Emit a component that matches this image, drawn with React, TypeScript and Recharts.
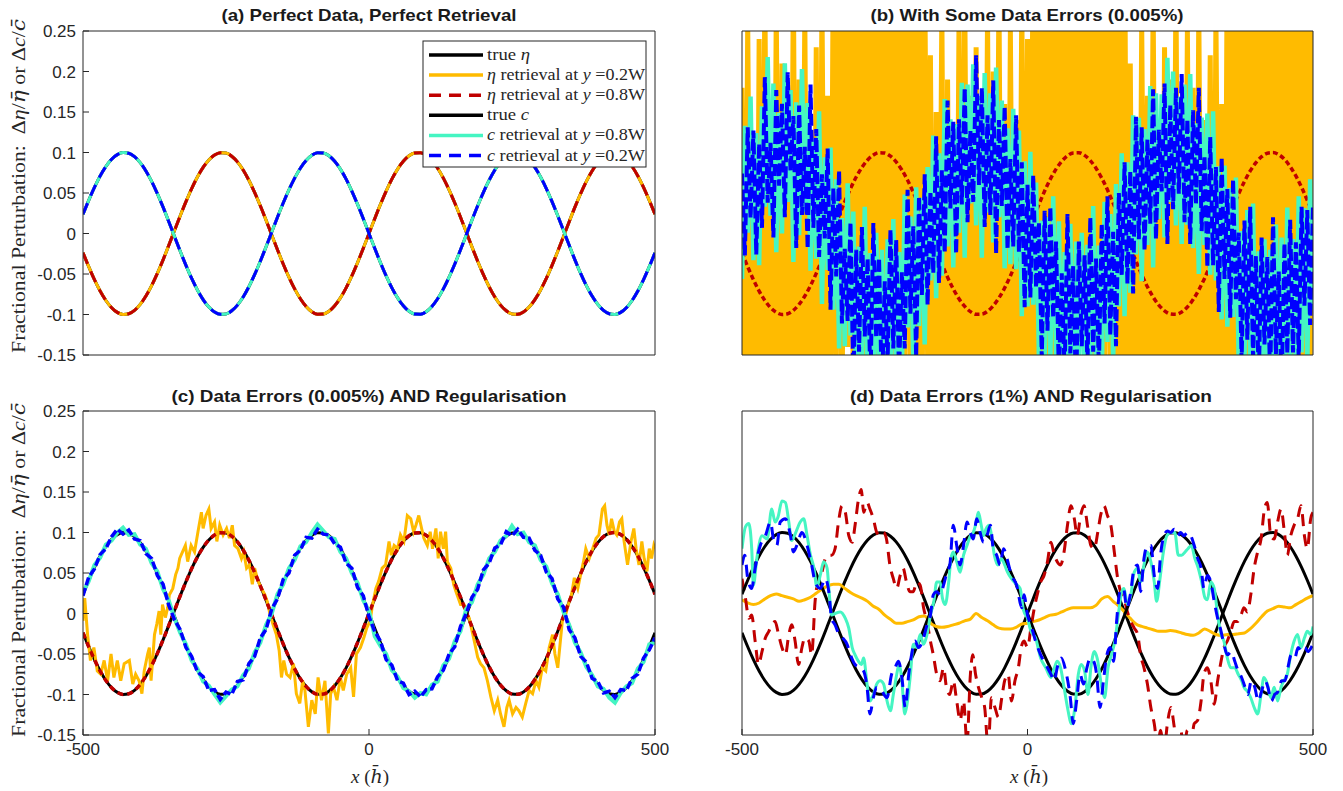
import React from "react";
import { Line, LineChart, XAxis, YAxis } from "recharts";

const X_TICKS = [-500, 0, 500];
const Y_TICKS = [-0.15, -0.1, -0.05, 0, 0.05, 0.1, 0.15, 0.2, 0.25];

const BLACK = "#000000";
const ORANGE = "#FFBB00";
const RED = "#C00000";
const CYAN = "#45F5C2";
const BLUE = "#0000FF";
const AXIS = "#262626";
const SANS = "'Liberation Sans', Arial, Helvetica, sans-serif";
const SERIF = "'Liberation Serif', 'Times New Roman', serif";
const MARK = "'DejaVu Serif', serif";

// true perturbations, sampled every 10 units from -500 to 500
const trueEta = [
  -0.0237, -0.041, -0.057, -0.0711, -0.0827, -0.0916, -0.0974, -0.0999, -0.0991, -0.0949,
  -0.0875, -0.0772, -0.0643, -0.0492, -0.0325, -0.0146, 0.0037, 0.0219, 0.0393, 0.0555,
  0.0697, 0.0816, 0.0908, 0.0969, 0.0998, 0.0993, 0.0954, 0.0884, 0.0784, 0.0657,
  0.0508, 0.0342, 0.0165, -0.0018, -0.0201, -0.0376, -0.0539, -0.0684, -0.0806, -0.09,
  -0.0965, -0.0997, -0.0995, -0.096, -0.0892, -0.0795, -0.0671, -0.0524, -0.0359, -0.0183,
  0,
  0.0183, 0.0359, 0.0524, 0.0671, 0.0795, 0.0892, 0.096, 0.0995, 0.0997, 0.0965,
  0.09, 0.0806, 0.0684, 0.0539, 0.0376, 0.0201, 0.0018, -0.0165, -0.0342, -0.0508,
  -0.0657, -0.0784, -0.0884, -0.0954, -0.0993, -0.0998, -0.0969, -0.0908, -0.0816, -0.0697,
  -0.0555, -0.0393, -0.0219, -0.0037, 0.0146, 0.0325, 0.0492, 0.0643, 0.0772, 0.0875,
  0.0949, 0.0991, 0.0999, 0.0974, 0.0916, 0.0827, 0.0711, 0.057, 0.041, 0.0237,
];

const trueC = [
  0.0237, 0.041, 0.057, 0.0711, 0.0827, 0.0916, 0.0974, 0.0999, 0.0991, 0.0949,
  0.0875, 0.0772, 0.0643, 0.0492, 0.0325, 0.0146, -0.0037, -0.0219, -0.0393, -0.0555,
  -0.0697, -0.0816, -0.0908, -0.0969, -0.0998, -0.0993, -0.0954, -0.0884, -0.0784, -0.0657,
  -0.0508, -0.0342, -0.0165, 0.0018, 0.0201, 0.0376, 0.0539, 0.0684, 0.0806, 0.09,
  0.0965, 0.0997, 0.0995, 0.096, 0.0892, 0.0795, 0.0671, 0.0524, 0.0359, 0.0183,
  0,
  -0.0183, -0.0359, -0.0524, -0.0671, -0.0795, -0.0892, -0.096, -0.0995, -0.0997, -0.0965,
  -0.09, -0.0806, -0.0684, -0.0539, -0.0376, -0.0201, -0.0018, 0.0165, 0.0342, 0.0508,
  0.0657, 0.0784, 0.0884, 0.0954, 0.0993, 0.0998, 0.0969, 0.0908, 0.0816, 0.0697,
  0.0555, 0.0393, 0.0219, 0.0037, -0.0146, -0.0325, -0.0492, -0.0643, -0.0772, -0.0875,
  -0.0949, -0.0991, -0.0999, -0.0974, -0.0916, -0.0827, -0.0711, -0.057, -0.041, -0.0237,
];

// (b) retrievals with 0.005% data errors, every 5 units
const etaRetrieval02B = [
  0.18, -0.3, 0.26, -0.22, 0.12, -0.35, 0.24, -0.28, 0.3, -0.2, 0.16, -0.33, 0.28, -0.25, 0.21, -0.31,
  0.14, -0.27, 0.32, -0.36, 0.19, -0.24, 0.27, -0.3, 0.11, -0.28, 0.23, -0.34, 0.29, -0.19, 0.17, -0.26,
  0.36, -0.18, 0.41, -0.25, 0.3, -0.14, 0.38, -0.22, 0.45, -0.29, 0.33, -0.16, 0.4, -0.21, 0.29, -0.26, 0.37,
  -0.13, 0.43, -0.24, 0.31, -0.19, 0.39, -0.28, 0.34, -0.17, 0.42, -0.23, 0.28, -0.2, 0.36, -0.27, 0.32, -0.15,
  0.22, -0.31, 0.15, -0.26, 0.28, -0.35, 0.19, -0.22, 0.13, -0.3, 0.26, -0.28, 0.31, -0.24, 0.17, -0.36, 0.23,
  -0.29, 0.12, -0.25, 0.27, -0.33, 0.2, -0.21, 0.3, -0.28, 0.16, -0.34, 0.25, -0.23, 0.14, -0.3, 0.29, -0.26, 0.24,
  -0.19, 0.38, -0.27, 0.33, -0.15, 0.42, -0.22, 0.3, -0.29, 0.39, -0.17, 0.35, -0.24, 0.44, -0.2, 0.31, -0.26,
  0.37, -0.13, 0.41, -0.23, 0.29, -0.18, 0.36, -0.28, 0.43, -0.21, 0.32, -0.16, 0.38, -0.25, 0.34, -0.19, 0.4,
  -0.3, 0.21, -0.27, 0.13, -0.34, 0.26, -0.22, 0.17, -0.31, 0.29, -0.25, 0.11, -0.36, 0.23, -0.28, 0.19, -0.24,
  0.31, -0.33, 0.15, -0.27, 0.25, -0.21, 0.18, -0.35, 0.28, -0.29, 0.14, -0.26, 0.22, -0.32, 0.27, -0.23, 0.16, -0.3,
  0.37, -0.2, 0.42, -0.26, 0.31, -0.15, 0.39, -0.23, 0.34, -0.28, 0.45, -0.18, 0.3, -0.24, 0.4, -0.21, 0.35,
  -0.27, 0.29, -0.16, 0.43, -0.25, 0.33, -0.19, 0.38, -0.22, 0.41, -0.29, 0.32, -0.17, 0.36,
];

const cRetrieval08B = [
  -0.056, 0.133, 0.001, 0.169, -0.033, 0.124, -0.039, 0.157, 0.033, 0.218,
  0.022, 0.185, -0.023, 0.149, 0.0, 0.21, 0.039, 0.177, -0.035, 0.162,
  -0.002, 0.203, 0.027, 0.161, -0.046, 0.117, -0.031, 0.151, -0.087, 0.094,
  -0.045, 0.106, -0.094, 0.067, -0.142, 0.019, -0.139, 0.062, -0.126, 0.027,
  -0.2, -0.016, -0.162, 0.033, -0.181, -0.024, -0.207, 0.001, -0.16, -0.02,
  -0.219, -0.007, -0.165, 0.018, -0.188, -0.023, -0.168, 0.048, -0.116, 0.021,
  -0.161, 0.057, -0.114, 0.044, -0.137, 0.082, -0.058, 0.121, -0.08, 0.099,
  -0.052, 0.166, -0.016, 0.141, -0.042, 0.135, 0.001, 0.186, -0.03, 0.184,
  0.037, 0.209, 0.01, 0.17, -0.03, 0.198, 0.026, 0.173, -0.011, 0.205,
  0.02, 0.164, -0.043, 0.13, -0.038, 0.154, -0.044, 0.127, -0.102, 0.089,
  -0.09,
  0.101, -0.088, 0.063, -0.156, 0.016, -0.152, 0.02, -0.157, 0.046, -0.15,
  0.015, -0.199, -0.023, -0.176, 0.012, -0.22, -0.01, -0.16, 0.001, -0.197,
  -0.014, -0.16, 0.034, -0.171, -0.015, -0.178, 0.039, -0.134, 0.024, -0.158,
  0.061, -0.09, 0.099, -0.102, 0.088, -0.073, 0.146, -0.026, 0.143, -0.059,
  0.129, -0.014, 0.182, -0.042, 0.173, 0.018, 0.172, -0.005, 0.217, 0.039,
  0.2, 0.01, 0.169, -0.013, 0.184, 0.011, 0.197, -0.018, 0.136, -0.05,
  0.143, -0.014, 0.148, -0.051, 0.151, -0.058, 0.083, -0.106, 0.084, -0.115,
  0.056, -0.103, 0.069, -0.169, 0.003, -0.154, 0.029, -0.157, 0.037, -0.198,
  -0.022, -0.155, -0.007, -0.219, -0.02, -0.2, 0.011, -0.167, -0.005, -0.202,
  0.032, -0.163, -0.007, -0.171, 0.046, -0.147, 0.031, -0.161, 0.067, -0.094,
];

const cRetrieval02B = [
  0.074, -0.027, 0.131, 0.019, 0.127, -0.026, 0.111, 0.007, 0.193, 0.038,
  0.112, -0.005, 0.177, 0.059, 0.16, 0.02, 0.199, 0.077, 0.145, -0.018,
  0.158, 0.023, 0.107, -0.019, 0.184, 0.007, 0.129, -0.029, 0.073, -0.006,
  0.105, -0.094, 0.056, -0.053, 0.078, -0.111, -0.019, -0.108, 0.014, -0.183,
  -0.02, -0.146, 0.008, -0.127, -0.031, -0.184, 0.013, -0.129, -0.03, -0.2,
  -0.059, -0.157, 0.005, -0.142, -0.008, -0.173, -0.048, -0.142, 0.054, -0.099,
  0.009, -0.153, 0.046, -0.076, 0.073, -0.088, 0.052, -0.049, 0.12, -0.061,
  0.078, -0.024, 0.164, 0.031, 0.138, -0.025, 0.141, 0.036, 0.18, 0.014,
  0.127, 0.039, 0.22, 0.06, 0.18, 0.008, 0.146, 0.023, 0.189, -0.025,
  0.14, 0.034, 0.157, -0.02, 0.092, -0.016, 0.146, -0.023, 0.088, -0.091,
  0.06,
  -0.079, 0.072, -0.067, 0.014, -0.154, 0.028, -0.12, 0.033, -0.104, -0.01,
  -0.175, -0.049, -0.173, 0.024, -0.148, -0.04, -0.2, -0.01, -0.139, -0.027,
  -0.164, 0.02, -0.146, -0.031, -0.165, 0.012, -0.111, 0.046, -0.126, 0.002,
  -0.139, 0.05, -0.051, 0.088, -0.062, 0.077, -0.074, 0.144, -0.007, 0.131,
  -0.021, 0.116, 0.012, 0.178, -0.007, 0.128, 0.052, 0.185, -0.013, 0.159,
  0.03, 0.18, 0.049, 0.197, 0.014, 0.141, -0.013, 0.152, 0.036, 0.18,
  0.003, 0.096, -0.042, 0.119, -0.039, 0.082, -0.097, 0.094, -0.056, 0.055,
  -0.104, 0.067, -0.081, 0.001, -0.157, 0.016, -0.131, 0.033, -0.153, -0.028,
  -0.182, -0.005, -0.137, -0.029, -0.18, 0.02, -0.149, -0.047, -0.195, -0.012,
  -0.148, 0.017, -0.147, -0.011, -0.154, 0.033, -0.089, 0.029, -0.113, 0.036,
];

// (c) retrievals with 0.005% errors and regularisation
const etaRetrieval02C = [
  [-500, -0.009], [-497, 0.019], [-492, -0.026], [-487, -0.058], [-481, -0.042], [-475, -0.071],
  [-469, -0.075], [-463, -0.058], [-457, -0.083], [-451, -0.05], [-446, -0.079], [-440, -0.058],
  [-434, -0.083], [-428, -0.062], [-419, -0.058], [-413, -0.087], [-408, -0.075], [-402, -0.083],
  [-397, -0.099], [-393, -0.071], [-387, -0.05], [-384, -0.042], [-381, -0.083], [-375, -0.026],
  [-371, -0.013], [-367, 0.003], [-364, -0.026], [-361, 0.011], [-356, -0.005], [-352, 0.007],
  [-349, 0.023], [-343, 0.031], [-338, 0.048], [-334, 0.056], [-331, 0.068], [-326, 0.076],
  [-321, 0.084], [-317, 0.064], [-311, 0.084], [-305, 0.076], [-299, 0.101], [-293, 0.125],
  [-290, 0.105], [-285, 0.121], [-280, 0.129], [-276, 0.105], [-270, 0.113], [-266, 0.089],
  [-261, 0.109], [-255, 0.097], [-249, 0.105], [-244, 0.093], [-239, 0.109], [-235, 0.084],
  [-229, 0.08], [-223, 0.068], [-219, 0.076], [-214, 0.056], [-209, 0.06], [-204, 0.036],
  [-200, 0.056], [-194, 0.04], [-188, 0.031], [-182, 0.023], [-178, 0.015], [-173, -0.001],
  [-168, -0.013], [-162, -0.026], [-157, -0.046], [-153, -0.079], [-149, -0.058], [-144, -0.075],
  [-138, -0.079], [-132, -0.062], [-127, -0.099], [-121, -0.111], [-116, -0.083], [-112, -0.095],
  [-106, -0.14], [-100, -0.107], [-94, -0.124], [-89, -0.079], [-83, -0.107], [-77, -0.083],
  [-71, -0.148], [-67, -0.099], [-62, -0.091], [-56, -0.107], [-50, -0.079], [-45, -0.095],
  [-39, -0.075], [-32, -0.067], [-27, -0.103], [-22, -0.05], [-15, -0.042], [-9, -0.03],
  [-4, -0.018], [2, -0.009], [6, 0.01], [12, 0.031], [17, 0.04], [23, 0.056], [29, 0.06],
  [35, 0.089], [39, 0.072], [44, 0.084], [50, 0.08], [55, 0.097], [61, 0.089], [67, 0.121],
  [73, 0.117], [78, 0.101], [82, 0.109], [87, 0.121], [92, 0.105], [96, 0.093], [102, 0.084],
  [107, 0.101], [111, 0.08], [117, 0.105], [121, 0.068], [125, 0.101], [130, 0.08], [134, 0.101],
  [137, 0.064], [143, 0.056], [148, 0.036], [152, 0.027], [156, 0.019], [160, 0.011], [166, 0.011],
  [171, -0.001], [175, -0.005], [179, -0.018], [184, -0.034], [190, -0.054], [195, -0.062],
  [201, -0.067], [207, -0.083], [213, -0.103], [219, -0.12], [225, -0.107], [230, -0.124],
  [236, -0.14], [241, -0.116], [245, -0.107], [251, -0.124], [257, -0.116], [262, -0.12],
  [268, -0.128], [274, -0.111], [280, -0.095], [286, -0.099], [292, -0.083], [297, -0.091],
  [303, -0.067], [309, -0.071], [315, -0.042], [321, -0.026], [325, -0.05], [330, -0.067],
  [334, -0.038], [338, -0.009], [344, -0.001], [350, 0.015], [354, 0.023], [359, 0.044],
  [365, 0.031], [370, 0.048], [375, 0.064], [379, 0.08], [385, 0.068], [391, 0.08], [397, 0.093],
  [402, 0.097], [408, 0.129], [412, 0.133], [416, 0.109], [420, 0.097], [424, 0.117], [429, 0.101],
  [433, 0.097], [438, 0.113], [442, 0.117], [446, 0.089], [452, 0.06], [458, 0.089], [463, 0.105],
  [467, 0.08], [472, 0.06], [477, 0.089], [481, 0.068], [486, 0.052], [490, 0.08], [494, 0.068],
  [498, 0.084], [500, 0.08],
];

const cRetrieval08C = [
  0.026, 0.04, 0.06, 0.069, 0.085, 0.09, 0.1, 0.106, 0.097, 0.098,
  0.085, 0.08, 0.062, 0.052, 0.03, 0.016, -0.006, -0.024, -0.038, -0.058,
  -0.068, -0.084, -0.089, -0.1, -0.11, -0.102, -0.094, -0.09, -0.076, -0.068,
  -0.048, -0.036, -0.014, 0.0, 0.024, 0.036, 0.056, 0.066, 0.083, 0.088,
  0.1, 0.11, 0.102, 0.094, 0.092, 0.076, 0.068, 0.05, 0.038, 0.016,
  0.003,
  -0.028, -0.04, -0.05, -0.07, -0.078, -0.092, -0.096, -0.104, -0.098, -0.1,
  -0.088, -0.084, -0.064, -0.056, -0.034, -0.022, 0.006, 0.014, 0.036, 0.048,
  0.068, 0.076, 0.09, 0.096, 0.108, 0.098, 0.1, 0.088, 0.084, 0.066,
  0.058, 0.037, 0.024, 0.002, -0.014, -0.036, -0.048, -0.066, -0.076, -0.09,
  -0.093, -0.104, -0.11, -0.098, -0.09, -0.086, -0.068, -0.06, -0.038, -0.036,
];

const cRetrieval02C = [
  0.022, 0.045, 0.055, 0.073, 0.08, 0.095, 0.104, 0.098, 0.103, 0.092,
  0.09, 0.074, 0.068, 0.047, 0.036, 0.01, -0.008, -0.02, -0.042, -0.053,
  -0.072, -0.078, -0.095, -0.094, -0.106, -0.097, -0.1, -0.084, -0.082, -0.062,
  -0.053, -0.03, -0.02, 0.006, 0.018, 0.042, 0.05, 0.072, 0.078, 0.094,
  0.093, 0.104, 0.098, 0.097, 0.086, 0.082, 0.062, 0.056, 0.032, 0.022,
  -0.004,
  -0.022, -0.034, -0.057, -0.064, -0.083, -0.086, -0.1, -0.096, -0.103, -0.094,
  -0.093, -0.078, -0.07, -0.05, -0.041, -0.016, 0.0, 0.02, 0.03, 0.054,
  0.062, 0.081, 0.085, 0.101, 0.096, 0.104, 0.094, 0.093, 0.078, 0.072,
  0.051, 0.043, 0.018, 0.008, -0.02, -0.03, -0.053, -0.06, -0.08, -0.084,
  -0.098, -0.096, -0.104, -0.094, -0.095, -0.08, -0.075, -0.055, -0.045, -0.03,
];

// (d) retrievals with 1% errors and regularisation
const etaRetrieval02D = [
  0.017, 0.013, 0.011, 0.013, 0.018, 0.022, 0.024, 0.022, 0.02, 0.018,
  0.015, 0.017, 0.02, 0.025, 0.03, 0.034, 0.036, 0.036, 0.031, 0.026,
  0.022, 0.019, 0.015, 0.009, 0.005, -0.002, -0.007, -0.012, -0.012, -0.01,
  -0.008, -0.004, -0.003, -0.012, -0.016, -0.017, -0.016, -0.014, -0.012, -0.009,
  -0.007, 0.0, -0.005, -0.009, -0.014, -0.018, -0.019, -0.019, -0.017, -0.013,
  -0.012,
  -0.01, -0.008, -0.005, -0.002, -0.001, 0.002, 0.005, 0.007, 0.007, 0.007,
  0.007, 0.01, 0.018, 0.021, 0.015, 0.009, 0.002, -0.006, -0.013, -0.016,
  -0.018, -0.02, -0.022, -0.022, -0.021, -0.022, -0.024, -0.026, -0.027, -0.024,
  -0.019, -0.022, -0.026, -0.027, -0.026, -0.026, -0.025, -0.024, -0.019, -0.012,
  -0.004, 0.003, 0.006, 0.009, 0.008, 0.007, 0.011, 0.015, 0.019, 0.022,
];

const etaRetrieval08D = [
  [-500, 0.043], [-494, 0.019], [-488, -0.006], [-483, -0.002], [-477, -0.034], [-471, -0.063],
  [-465, -0.047], [-459, -0.03], [-453, -0.022], [-448, -0.014], [-442, -0.01], [-436, -0.026],
  [-430, -0.042], [-424, -0.051], [-418, -0.026], [-413, -0.014], [-407, -0.034], [-401, -0.063],
  [-395, -0.042], [-390, -0.03], [-383, -0.034], [-378, -0.051], [-372, 0.015], [-366, 0.043],
  [-360, 0.051], [-354, 0.068], [-348, 0.072], [-343, 0.072], [-337, 0.08], [-331, 0.113],
  [-325, 0.133], [-319, 0.125], [-313, 0.096], [-307, 0.088], [-302, 0.109], [-296, 0.141],
  [-291, 0.153], [-287, 0.125], [-281, 0.137], [-276, 0.129], [-270, 0.117], [-264, 0.1],
  [-258, 0.096], [-252, 0.1], [-247, 0.092], [-241, 0.06], [-235, 0.043], [-229, 0.031],
  [-223, 0.047], [-218, 0.056], [-212, 0.039], [-206, 0.027], [-200, 0.027], [-194, 0.039],
  [-188, 0.035], [-182, 0.007], [-176, -0.01], [-170, -0.034], [-165, -0.051], [-159, -0.075],
  [-153, -0.083], [-147, -0.067], [-142, -0.091], [-136, -0.1], [-130, -0.083], [-124, -0.108],
  [-118, -0.132], [-112, -0.108], [-106, -0.16], [-100, -0.075], [-96, -0.051], [-91, -0.075],
  [-86, -0.091], [-80, -0.104], [-75, -0.116], [-69, -0.165], [-63, -0.104], [-57, -0.116],
  [-51, -0.128], [-45, -0.104], [-40, -0.083], [-34, -0.075], [-28, -0.108], [-22, -0.083],
  [-16, -0.067], [-11, -0.042], [-6, -0.034], [0, -0.042], [6, -0.018], [12, 0.007], [17, 0.023],
  [23, 0.039], [29, 0.047], [35, 0.064], [41, 0.088], [47, 0.072], [52, 0.064], [58, 0.06],
  [64, 0.076], [70, 0.109], [76, 0.133], [82, 0.117], [87, 0.096], [93, 0.121], [99, 0.133],
  [105, 0.109], [111, 0.084], [117, 0.08], [123, 0.1], [128, 0.121], [134, 0.133], [140, 0.121],
  [146, 0.109], [152, 0.076], [158, 0.043], [163, 0.027], [169, 0.019], [175, 0.002], [181, -0.01],
  [187, -0.018], [193, -0.026], [198, -0.051], [204, -0.067], [210, -0.087], [216, -0.116],
  [222, -0.136], [228, -0.165], [233, -0.144], [239, -0.17], [245, -0.136], [251, -0.116],
  [257, -0.14], [263, -0.17], [268, -0.144], [274, -0.165], [280, -0.144], [286, -0.16],
  [292, -0.136], [298, -0.132], [304, -0.108], [309, -0.075], [315, -0.067], [321, -0.083],
  [327, -0.112], [333, -0.083], [339, -0.059], [344, -0.042], [350, -0.034], [356, -0.022],
  [362, -0.01], [368, -0.01], [374, -0.002], [379, 0.007], [385, 0.002], [391, 0.023],
  [397, 0.056], [403, 0.076], [409, 0.092], [415, 0.129], [420, 0.137], [426, 0.096], [432, 0.092],
  [438, 0.113], [444, 0.129], [450, 0.1], [455, 0.072], [461, 0.096], [467, 0.109], [473, 0.117],
  [479, 0.133], [485, 0.096], [490, 0.08], [496, 0.117], [500, 0.125],
];

const cRetrieval08D = [
  [-500, 0.08], [-494, 0.107], [-488, 0.111], [-483, 0.08], [-480, 0.035], [-474, 0.068],
  [-465, 0.096], [-456, 0.092], [-448, 0.129], [-442, 0.113], [-437, 0.119], [-430, 0.139],
  [-424, 0.137], [-418, 0.113], [-413, 0.09], [-407, 0.098], [-398, 0.113], [-392, 0.117],
  [-386, 0.096], [-380, 0.072], [-374, 0.056], [-369, 0.033], [-363, 0.047], [-357, 0.064],
  [-351, 0.056], [-347, 0.023], [-343, -0.002], [-337, 0.0], [-328, 0.002], [-319, -0.006],
  [-313, -0.018], [-307, -0.042], [-302, -0.051], [-296, -0.059], [-291, -0.063], [-287, -0.055],
  [-281, -0.087], [-276, -0.108], [-270, -0.1], [-264, -0.087], [-258, -0.083], [-252, -0.087],
  [-246, -0.108], [-240, -0.12], [-235, -0.1], [-229, -0.075], [-225, -0.063], [-220, -0.083],
  [-215, -0.124], [-211, -0.112], [-205, -0.075], [-200, -0.038], [-194, -0.042], [-188, -0.026],
  [-182, -0.038], [-176, -0.026], [-170, -0.002], [-164, 0.015], [-159, 0.039], [-153, 0.039],
  [-149, 0.019], [-144, 0.011], [-138, 0.039], [-134, 0.068], [-130, 0.076], [-124, 0.064],
  [-118, 0.051], [-112, 0.072], [-106, 0.084], [-100, 0.096], [-95, 0.1], [-91, 0.109],
  [-86, 0.125], [-81, 0.109], [-77, 0.096], [-73, 0.104], [-67, 0.109], [-63, 0.096], [-58, 0.072],
  [-52, 0.06], [-46, 0.068], [-40, 0.06], [-35, 0.051], [-28, 0.043], [-21, 0.037], [-13, 0.031],
  [-7, 0.004], [0, -0.006], [6, -0.022], [14, -0.03], [23, -0.055], [32, -0.067], [41, -0.079],
  [47, -0.067], [52, -0.059], [58, -0.067], [64, -0.091], [70, -0.116], [77, -0.136], [83, -0.116],
  [89, -0.075], [94, -0.063], [100, -0.071], [106, -0.1], [111, -0.067], [117, -0.047], [122, -0.055],
  [130, -0.091], [135, -0.104], [141, -0.067], [147, -0.051], [153, -0.034], [159, -0.002],
  [165, 0.027], [169, 0.031], [175, 0.011], [181, 0.023], [187, 0.051], [193, 0.056], [198, 0.039],
  [204, 0.06], [210, 0.076], [216, 0.064], [222, 0.039], [226, 0.015], [232, 0.043], [238, 0.076],
  [244, 0.096], [251, 0.1], [258, 0.1], [264, 0.072], [270, 0.072], [276, 0.076], [281, 0.08],
  [287, 0.084], [293, 0.068], [299, 0.056], [305, 0.039], [311, 0.019], [315, 0.017], [321, 0.039],
  [327, 0.031], [333, -0.002], [339, -0.026], [344, -0.034], [350, -0.055], [356, -0.067],
  [363, -0.067], [369, -0.075], [375, -0.083], [379, -0.091], [385, -0.096], [391, -0.104],
  [397, -0.116], [403, -0.124], [409, -0.1], [414, -0.079], [420, -0.087], [426, -0.104],
  [432, -0.091], [438, -0.108], [444, -0.091], [449, -0.083], [455, -0.075], [461, -0.051],
  [467, -0.034], [473, -0.026], [479, -0.042], [485, -0.03], [490, -0.022], [496, -0.026], [500, -0.016],
];

const cRetrieval02D = [
  [-500, 0.06], [-495, 0.072], [-490, 0.043], [-483, 0.031], [-477, 0.056], [-468, 0.084],
  [-459, 0.096], [-450, 0.113], [-445, 0.092], [-439, 0.084], [-433, 0.113], [-424, 0.117],
  [-415, 0.096], [-410, 0.076], [-404, 0.084], [-395, 0.1], [-386, 0.084], [-378, 0.06],
  [-372, 0.039], [-363, 0.031], [-354, 0.043], [-348, 0.027], [-343, -0.006], [-337, -0.014],
  [-330, -0.026], [-324, -0.03], [-316, -0.038], [-310, -0.051], [-302, -0.063], [-293, -0.067],
  [-287, -0.071], [-281, -0.091], [-276, -0.124], [-270, -0.104], [-264, -0.091], [-255, -0.096],
  [-246, -0.104], [-238, -0.075], [-232, -0.067], [-226, -0.059], [-220, -0.079], [-214, -0.116],
  [-208, -0.075], [-203, -0.051], [-197, -0.034], [-191, -0.042], [-182, -0.03], [-176, -0.014],
  [-170, -0.002], [-165, 0.023], [-159, 0.027], [-153, 0.023], [-147, 0.035], [-141, 0.051],
  [-136, 0.06], [-130, 0.109], [-124, 0.084], [-118, 0.06], [-112, 0.084], [-106, 0.113],
  [-100, 0.1], [-95, 0.092], [-89, 0.117], [-83, 0.1], [-77, 0.088], [-71, 0.096], [-65, 0.109],
  [-60, 0.08], [-54, 0.072], [-48, 0.06], [-42, 0.08], [-36, 0.068], [-28, 0.047], [-19, 0.035],
  [-10, 0.007], [-6, 0.023], [0, -0.002], [6, -0.014], [14, -0.034], [23, -0.051], [32, -0.063],
  [41, -0.075], [47, -0.083], [52, -0.067], [59, -0.055], [67, -0.071], [75, -0.104], [80, -0.136],
  [86, -0.108], [92, -0.075], [98, -0.087], [104, -0.067], [110, -0.055], [116, -0.059], [121, -0.075],
  [127, -0.116], [133, -0.083], [139, -0.051], [145, -0.042], [151, -0.059], [156, -0.01], [162, 0.027],
  [168, 0.031], [174, 0.007], [180, 0.023], [187, 0.056], [193, 0.06], [198, 0.027], [204, 0.068],
  [210, 0.084], [216, 0.084], [222, 0.047], [228, 0.031], [233, 0.072], [239, 0.096], [245, 0.102],
  [251, 0.1], [257, 0.104], [263, 0.096], [268, 0.1], [274, 0.096], [280, 0.1], [286, 0.096],
  [292, 0.084], [298, 0.068], [304, 0.056], [309, 0.031], [315, 0.047], [321, 0.039], [327, 0.015],
  [333, -0.006], [339, -0.022], [344, -0.038], [350, -0.051], [357, -0.047], [363, -0.059],
  [369, -0.071], [375, -0.079], [381, -0.091], [386, -0.1], [392, -0.083], [398, -0.091],
  [404, -0.108], [410, -0.096], [416, -0.083], [421, -0.091], [427, -0.108], [433, -0.1],
  [439, -0.096], [445, -0.083], [451, -0.083], [456, -0.067], [462, -0.051], [468, -0.055],
  [474, -0.042], [480, -0.047], [486, -0.042], [491, -0.047], [497, -0.042], [500, -0.038],
];

type Pt = { x: number; y: number };
// evenly spaced samples across the x range
const onGrid = (ys: number[]): Pt[] =>
  ys.map((y, i) => ({ x: -500 + (i * 1000) / (ys.length - 1), y }));
const fromPairs = (pairs: number[][]): Pt[] => pairs.map(([x, y]) => ({ x, y }));

type Series = {
  name: string;
  data: Pt[];
  color: string;
  width?: number;
  dash?: string;
  curve?: "linear" | "monotone";
};

const TICK_STYLE = { fill: AXIS, fontSize: 17, fontFamily: SANS };

function Panel({
  left,
  top,
  w,
  h,
  series,
  yLabels,
  xLabels,
}: {
  left: number;
  top: number;
  w: number;
  h: number;
  series: Series[];
  yLabels: boolean;
  xLabels: boolean;
}) {
  const bottomH = xLabels ? 40 : 10;
  return (
    <div style={{ position: "absolute", left: left - 50, top: top - 10 }}>
      <LineChart width={w + 75} height={h + 10 + bottomH} margin={{ top: 0, right: 0, bottom: 0, left: 0 }}>
        <XAxis
          xAxisId="b"
          type="number"
          dataKey="x"
          domain={[-500, 500]}
          ticks={X_TICKS}
          interval={0}
          allowDataOverflow
          height={bottomH}
          tickSize={-6}
          tickMargin={xLabels ? 14 : 0}
          tick={xLabels ? TICK_STYLE : false}
          stroke={AXIS}
        />
        <XAxis
          xAxisId="t"
          orientation="top"
          type="number"
          dataKey="x"
          domain={[-500, 500]}
          ticks={X_TICKS}
          interval={0}
          allowDataOverflow
          height={10}
          tickSize={-6}
          tick={false}
          stroke={AXIS}
        />
        <YAxis
          yAxisId="l"
          type="number"
          domain={[-0.15, 0.25]}
          ticks={Y_TICKS}
          interval={0}
          allowDataOverflow
          width={50}
          tickSize={-6}
          tickMargin={13}
          tick={yLabels ? TICK_STYLE : false}
          tickFormatter={(v: number) => String(v)}
          stroke={AXIS}
        />
        <YAxis
          yAxisId="r"
          orientation="right"
          type="number"
          domain={[-0.15, 0.25]}
          ticks={Y_TICKS}
          interval={0}
          allowDataOverflow
          width={25}
          tickSize={-6}
          tick={false}
          stroke={AXIS}
        />
        {series.map((s) => (
          <Line
            key={s.name}
            xAxisId="b"
            yAxisId="l"
            data={s.data}
            dataKey="y"
            type={s.curve ?? "linear"}
            stroke={s.color}
            strokeWidth={s.width ?? 3}
            strokeDasharray={s.dash}
            dot={false}
            activeDot={false}
            isAnimationActive={false}
          />
        ))}
      </LineChart>
    </div>
  );
}

const eta = onGrid(trueEta);
const c = onGrid(trueC);

const panelA: Series[] = [
  { name: "eta", data: eta, color: BLACK, curve: "monotone" },
  { name: "eta02", data: eta, color: ORANGE, curve: "monotone" },
  { name: "eta08", data: eta, color: RED, dash: "12 8", curve: "monotone" },
  { name: "c", data: c, color: BLACK, curve: "monotone" },
  { name: "c08", data: c, color: CYAN, curve: "monotone" },
  { name: "c02", data: c, color: BLUE, dash: "12 8", curve: "monotone" },
];

const panelB: Series[] = [
  { name: "eta", data: eta, color: BLACK, curve: "monotone" },
  { name: "eta02", data: onGrid(etaRetrieval02B), color: ORANGE, width: 5 },
  { name: "eta08", data: eta, color: RED, dash: "5 3", width: 3.5, curve: "monotone" },
  { name: "c", data: c, color: BLACK, curve: "monotone" },
  { name: "c08", data: onGrid(cRetrieval08B), color: CYAN, width: 4.5 },
  { name: "c02", data: onGrid(cRetrieval02B), color: BLUE, width: 4, dash: "12 4" },
];

const panelC: Series[] = [
  { name: "eta", data: eta, color: BLACK, curve: "monotone" },
  { name: "eta02", data: fromPairs(etaRetrieval02C), color: ORANGE },
  { name: "eta08", data: eta, color: RED, dash: "6 4", width: 3.5, curve: "monotone" },
  { name: "c", data: c, color: BLACK, curve: "monotone" },
  { name: "c08", data: onGrid(cRetrieval08C), color: CYAN, width: 4 },
  { name: "c02", data: onGrid(cRetrieval02C), color: BLUE, dash: "8 3", width: 3.5 },
];

const panelD: Series[] = [
  { name: "eta", data: eta, color: BLACK, curve: "monotone" },
  { name: "eta02", data: onGrid(etaRetrieval02D), color: ORANGE, curve: "monotone" },
  { name: "eta08", data: fromPairs(etaRetrieval08D), color: RED, dash: "12 8", curve: "monotone" },
  { name: "c", data: c, color: BLACK, curve: "monotone" },
  { name: "c08", data: fromPairs(cRetrieval08D), color: CYAN, curve: "monotone" },
  { name: "c02", data: fromPairs(cRetrieval02D), color: BLUE, dash: "12 8", curve: "monotone" },
];

const LEGEND_ROWS = [
  { color: BLACK, dash: undefined, parts: [["true ", false], ["η", true]], len: 43 },
  { color: ORANGE, dash: undefined, parts: [["η", true], [" retrieval at ", false], ["y", true], [" =0.2W", false]], len: 158 },
  { color: RED, dash: "12 8", parts: [["η", true], [" retrieval at ", false], ["y", true], [" =0.8W", false]], len: 158 },
  { color: BLACK, dash: undefined, parts: [["true ", false], ["c", true]], len: 42 },
  { color: CYAN, dash: undefined, parts: [["c", true], [" retrieval at ", false], ["y", true], [" =0.8W", false]], len: 158 },
  { color: BLUE, dash: "12 8", parts: [["c", true], [" retrieval at ", false], ["y", true], [" =0.2W", false]], len: 158 },
] as const;

function YLabel({ cx, cy }: { cx: number; cy: number }) {
  return (
    <text
      transform={`translate(${cx},${cy}) rotate(-90)`}
      textAnchor="middle"
      fontFamily={SERIF}
      fontSize={18}
      fill={AXIS}
      textLength={334}
      lengthAdjust="spacingAndGlyphs"
      style={{ whiteSpace: "pre" }}
    >
      {"Fractional Perturbation:  Δ"}
      <tspan fontStyle="italic">η</tspan>
      {"/"}
      <tspan fontStyle="italic" fontFamily={MARK}>{"η\u0304"}</tspan>
      {" or Δ"}
      <tspan fontStyle="italic">c</tspan>
      {"/"}
      <tspan fontStyle="italic" fontFamily={MARK}>{"c\u0304"}</tspan>
    </text>
  );
}

function XLabel({ cx }: { cx: number }) {
  return (
    <text x={cx} y={783} textAnchor="middle" fontFamily={SERIF} fontSize={19} fill={AXIS} style={{ whiteSpace: "pre" }}>
      <tspan fontStyle="italic">x</tspan>
      {" ("}
      <tspan fontStyle="italic" fontFamily={MARK}>{"h\u0304"}</tspan>
      {")"}
    </text>
  );
}

function Title({ cx, y, text, len }: { cx: number; y: number; text: string; len: number }) {
  return (
    <text
      x={cx}
      y={y}
      textAnchor="middle"
      fontFamily={SANS}
      fontWeight="bold"
      fontSize={17}
      fill="#1a1a1a"
      textLength={len}
      lengthAdjust="spacingAndGlyphs"
    >
      {text}
    </text>
  );
}

export default function App() {
  return (
    <div style={{ position: "absolute", left: 0, top: 0, width: 1343, height: 791, background: "#fff", overflow: "hidden" }}>
      <Panel left={83} top={31} w={572} h={324} series={panelA} yLabels xLabels={false} />
      <Panel left={742} top={31} w={571} h={324} series={panelB} yLabels={false} xLabels={false} />
      <Panel left={83} top={411} w={572} h={324} series={panelC} yLabels xLabels />
      <Panel left={742} top={411} w={571} h={324} series={panelD} yLabels={false} xLabels />
      <svg width={1343} height={791} style={{ position: "absolute", left: 0, top: 0, pointerEvents: "none" }}>
        <Title cx={369} y={21} text="(a) Perfect Data, Perfect Retrieval" len={295} />
        <Title cx={1027} y={21} text="(b) With Some Data Errors (0.005%)" len={313} />
        <Title cx={369} y={402} text="(c) Data Errors (0.005%) AND Regularisation" len={395} />
        <Title cx={1031} y={402} text="(d) Data Errors (1%) AND Regularisation" len={362} />
        <YLabel cx={25} cy={186} />
        <YLabel cx={25} cy={570} />
        <XLabel cx={370} />
        <XLabel cx={1029} />
        <g>
          <rect x={423} y={41} width={223} height={126} fill="#fff" stroke={AXIS} strokeWidth={1} />
          {LEGEND_ROWS.map((r, i) => {
            const yy = 55 + i * 20.1;
            return (
              <g key={i}>
                <line x1={429} x2={483} y1={yy} y2={yy} stroke={r.color} strokeWidth={3.5} strokeDasharray={r.dash} />
                <text
                  x={487}
                  y={yy + 5}
                  fontFamily={SERIF}
                  fontSize={16}
                  fill={AXIS}
                  textLength={r.len}
                  lengthAdjust="spacingAndGlyphs"
                  style={{ whiteSpace: "pre" }}
                >
                  {r.parts.map(([t, it], j) => (
                    <tspan key={j} fontStyle={it ? "italic" : "normal"}>
                      {t}
                    </tspan>
                  ))}
                </text>
              </g>
            );
          })}
        </g>
      </svg>
    </div>
  );
}
